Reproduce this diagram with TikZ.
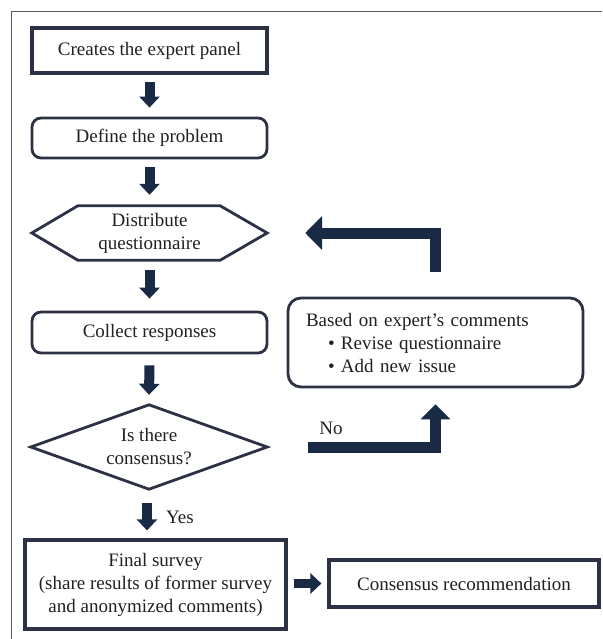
\documentclass[tikz,border=0pt]{standalone}
\usepackage{fontspec}
\setmainfont{Liberation Serif}
\usetikzlibrary{arrows.meta,calc}
\definecolor{boxline}{RGB}{44,50,68}
\definecolor{arrowfill}{RGB}{24,42,68}
\definecolor{txt}{RGB}{35,31,32}
\definecolor{frame}{RGB}{90,90,90}
\tikzset{
  base/.style={font=\fontsize{19}{23}\selectfont, text=txt, align=center, inner sep=0pt},
  sqbox/.style={base, draw=boxline, line width=3.2pt},
  rdbox/.style={base, draw=boxline, line width=2.8pt, rounded corners=9pt},
  shapeonly/.style={base},
  outline/.style={draw=boxline, line width=2.8pt, line join=miter},
  bigarrow/.style={draw=arrowfill, line width=10pt, -{Triangle[width=20pt,length=11pt]}},
  elbowarrow/.style={draw=arrowfill, line width=11pt, line join=miter},
  lbl/.style={font=\fontsize{19}{23}\selectfont, text=txt, inner sep=0pt}
}
\begin{document}
\begin{tikzpicture}[x=1pt,y=-1pt]
\useasboundingbox (0,0) rectangle (602,639);
% frame (top and left edges)
\draw[frame, line width=1.2pt] (602,11.5) -- (11.5,11.5) -- (11.5,639);

% main column
\node[sqbox, minimum width=235pt, minimum height=45pt] (panel) at (149.5,50.5) {Creates the expert panel};
\node[rdbox, minimum width=235pt, minimum height=40pt] (problem) at (149.5,138) {Define the problem};
\node[shapeonly, minimum width=235pt, minimum height=54pt] (hex) at (149.5,233) {Distribute\\questionnaire};
\draw[outline] (hex.west) -- ([xshift=46pt]hex.north west) -- ([xshift=-47pt]hex.north east) -- (hex.east) -- ([xshift=-47pt]hex.south east) -- ([xshift=46pt]hex.south west) -- cycle;
\node[rdbox, minimum width=235pt, minimum height=41pt] (collect) at (149.5,332.5) {Collect responses};
\node[shapeonly, minimum width=236pt, minimum height=84pt] (cons) at (149,447) {Is there\\consensus?};
\draw[outline] (cons.west) -- (cons.north) -- (cons.east) -- (cons.south) -- cycle;
\node[sqbox, minimum width=261pt, minimum height=89pt] (final) at (155.5,584.5) {Final survey\\(share results of former survey\\and anonymized comments)};
\node[sqbox, minimum width=270pt, minimum height=47pt] (rec) at (464,583.5) {Consensus recommendation};

% right box
\node[rdbox, rounded corners=13pt, minimum width=295pt, minimum height=89pt, text width=259pt, align=left, inner xsep=18pt] (rev) at (435.5,342.5)
  {Based on expert’s comments\\\hspace*{22pt}\textbullet\ Revise questionnaire\\\hspace*{22pt}\textbullet\ Add new issue};

% straight arrows
\draw[bigarrow] ([yshift=-7pt]panel.south) -- ([yshift=9pt]problem.north);
\draw[bigarrow] ([yshift=-8pt]problem.south) -- ([yshift=11pt]hex.north);
\draw[bigarrow] ([yshift=-10pt]hex.south) -- ([yshift=12pt]collect.north);
\draw[bigarrow] ([yshift=-11pt]collect.south) -- ([yshift=10pt]cons.north);
\draw[bigarrow] ([xshift=-2pt,yshift=-14pt]cons.south) -- ([xshift=-2pt,yshift=8pt]final.north -| cons.south);
\draw[bigarrow, line width=9pt] ([xshift=6pt]final.east |- rec.west) -- ([xshift=-6pt]rec.west);
\node[lbl] (yes) at (180,517) {Yes};

% feedback arrow to hexagon
\coordinate (fbstart) at ([yshift=25pt]rev.north);
\coordinate (fbend) at ([xshift=38pt]hex.east);
\draw[elbowarrow, -{Triangle[width=33pt,length=17pt]}] (fbstart) -- (fbstart |- fbend) -- (fbend);

% "No" arrow to revise box
\coordinate (nostart) at ([xshift=41pt]cons.east);
\coordinate (noend) at ([yshift=-16pt]rev.south);
\draw[elbowarrow, -{Triangle[width=29pt,length=15pt]}] (nostart) -- (noend |- nostart) -- (noend);
\node[lbl] (no) at (331,428) {No};
\end{tikzpicture}
\end{document}
